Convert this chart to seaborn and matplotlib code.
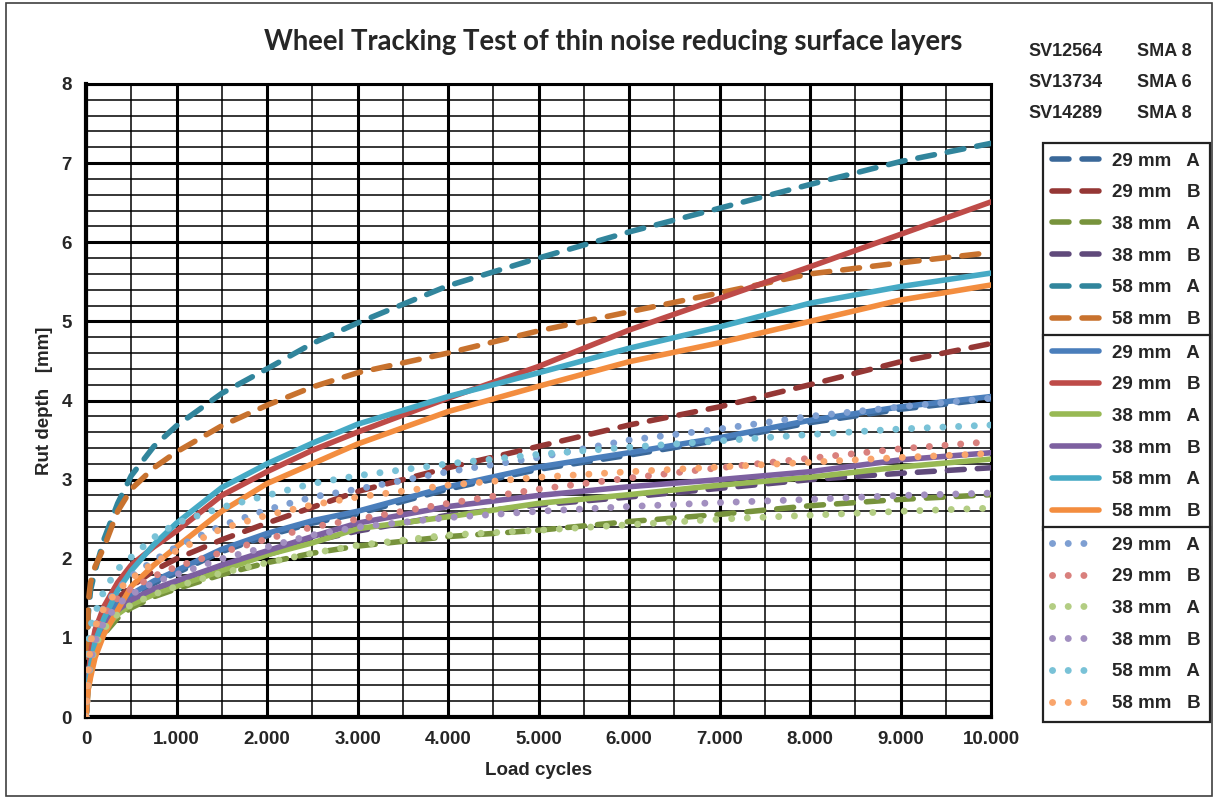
import numpy as np
import pandas as pd
import matplotlib
matplotlib.use("Agg")
import matplotlib.pyplot as plt
import seaborn as sns
from matplotlib.patches import Rectangle
from matplotlib.ticker import MultipleLocator, FuncFormatter

# ---------------- data ----------------
load_cycles = [0, 25, 50, 100, 200, 350, 500, 750, 1000, 1500, 2000, 2500,
               3000, 4000, 5000, 6000, 7000, 8000, 9000, 10000]

# dashed series
dash_29A = [0, 0.48, 0.72, 0.97, 1.22, 1.42, 1.52, 1.69, 1.82, 2.09, 2.29, 2.45,
            2.57, 2.88, 3.13, 3.31, 3.50, 3.72, 3.89, 4.02]
dash_29B = [0, 0.45, 0.70, 0.95, 1.25, 1.50, 1.65, 1.85, 2.00, 2.24, 2.45, 2.65,
            2.85, 3.15, 3.42, 3.69, 3.92, 4.20, 4.49, 4.72]
dash_38A = [0, 0.35, 0.55, 0.80, 1.05, 1.25, 1.38, 1.52, 1.62, 1.80, 1.95, 2.07,
            2.16, 2.28, 2.36, 2.47, 2.56, 2.67, 2.75, 2.81]
dash_38B = [0, 0.40, 0.60, 0.85, 1.10, 1.32, 1.45, 1.60, 1.70, 1.90, 2.05, 2.22,
            2.35, 2.55, 2.68, 2.78, 2.89, 3.00, 3.08, 3.15]
dash_58A = [0, 1.30, 1.60, 1.85, 2.25, 2.70, 3.05, 3.42, 3.68, 4.09, 4.40, 4.72,
            4.98, 5.45, 5.80, 6.13, 6.43, 6.73, 7.02, 7.25]
dash_58B = [0, 1.45, 1.70, 1.90, 2.15, 2.60, 2.88, 3.15, 3.35, 3.68, 3.94, 4.17,
            4.35, 4.60, 4.88, 5.12, 5.36, 5.60, 5.74, 5.87]

# solid series
solid_29A = [0, 0.50, 0.75, 1.00, 1.25, 1.45, 1.55, 1.72, 1.85, 2.12, 2.32, 2.48,
             2.60, 2.91, 3.16, 3.34, 3.53, 3.75, 3.92, 4.05]
solid_29B = [0, 0.50, 0.80, 1.10, 1.40, 1.70, 1.92, 2.15, 2.35, 2.80, 3.10, 3.37,
             3.60, 4.03, 4.43, 4.89, 5.29, 5.69, 6.10, 6.51]
solid_38A = [0, 0.40, 0.60, 0.85, 1.10, 1.30, 1.42, 1.55, 1.65, 1.85, 2.05, 2.20,
             2.38, 2.53, 2.70, 2.81, 2.93, 3.03, 3.16, 3.26]
solid_38B = [0, 0.45, 0.65, 0.90, 1.15, 1.35, 1.48, 1.62, 1.72, 1.92, 2.10, 2.28,
             2.45, 2.66, 2.80, 2.91, 3.00, 3.10, 3.25, 3.34]
solid_58A = [0, 0.40, 0.65, 0.95, 1.25, 1.60, 1.85, 2.18, 2.45, 2.90, 3.20, 3.46,
             3.70, 4.05, 4.35, 4.66, 4.93, 5.23, 5.44, 5.61]
solid_58B = [0, 0.35, 0.50, 0.75, 1.05, 1.35, 1.65, 1.92, 2.15, 2.60, 2.95, 3.20,
             3.45, 3.86, 4.18, 4.49, 4.73, 5.00, 5.27, 5.46]

# dotted series
dot_29A = [0, 0.60, 0.85, 1.15, 1.40, 1.62, 1.78, 1.98, 2.15, 2.42, 2.62, 2.78,
           2.88, 3.10, 3.28, 3.50, 3.64, 3.80, 3.92, 4.03]
dot_29B = [0, 0.50, 0.75, 1.05, 1.30, 1.50, 1.62, 1.78, 1.90, 2.08, 2.25, 2.40,
           2.50, 2.70, 2.88, 3.02, 3.15, 3.27, 3.39, 3.48]
dot_38A = [0, 0.45, 0.65, 0.90, 1.12, 1.30, 1.42, 1.55, 1.65, 1.82, 1.95, 2.07,
           2.17, 2.30, 2.36, 2.43, 2.50, 2.55, 2.60, 2.64]
dot_38B = [0, 0.50, 0.70, 0.95, 1.20, 1.42, 1.55, 1.70, 1.80, 2.00, 2.15, 2.30,
           2.40, 2.52, 2.60, 2.66, 2.71, 2.75, 2.80, 2.83]
dot_58A = [0, 0.90, 1.15, 1.31, 1.60, 1.87, 2.02, 2.27, 2.45, 2.65, 2.80, 2.95,
           3.05, 3.20, 3.32, 3.41, 3.49, 3.57, 3.64, 3.69]
dot_58B = [0, 0.55, 0.95, 1.14, 1.38, 1.60, 1.75, 1.95, 2.10, 2.38, 2.55, 2.68,
           2.78, 2.93, 3.03, 3.10, 3.16, 3.22, 3.28, 3.33]

series_labels = ["29 mm   A", "29 mm   B", "38 mm   A", "38 mm   B", "58 mm   A", "58 mm   B"]
sample_ids = ["SV12564", "SV13734", "SV14289"]
sample_types = ["SMA 8", "SMA 6", "SMA 8"]

title = "Wheel Tracking Test of thin noise reducing surface layers"
x_label = "Load cycles"
y_label = "Rut depth   [mm]"

dashed_colors = ["#3A6899", "#953735", "#77933C", "#604A7B", "#31859C", "#C8722E"]
solid_colors = ["#4A7EBB", "#BE4B48", "#98B954", "#7D60A0", "#46AAC5", "#F38D3F"]
dotted_colors = ["#7E9FD2", "#D9807D", "#B3CD83", "#A28FC0", "#79C2D7", "#F9A56C"]

groups = [
    ("dashed", [dash_29A, dash_29B, dash_38A, dash_38B, dash_58A, dash_58B], dashed_colors),
    ("solid", [solid_29A, solid_29B, solid_38A, solid_38B, solid_58A, solid_58B], solid_colors),
    ("dotted", [dot_29A, dot_29B, dot_38A, dot_38B, dot_58A, dot_58B], dotted_colors),
]

rows = []
for style, sets, _ in groups:
    for lab, vals in zip(series_labels, sets):
        for xv, yv in zip(load_cycles, vals):
            rows.append({"x": xv, "y": yv, "series": lab, "style": style})
df = pd.DataFrame(rows)

# ---------------- figure ----------------
sns.set_style("white")
plt.rcParams['font.family'] = ['Liberation Sans', 'DejaVu Sans']
plt.rcParams['font.weight'] = 'bold'

W, H = 1215, 798
fig = plt.figure(figsize=(W / 100, H / 100), dpi=100)
ax = fig.add_axes([86 / W, 1 - 717 / H, (991 - 86) / W, (717 - 84) / H])

style_cfg = {
    "dashed": dict(lw=4.0, dashes=(3.05, 2.35), z=3),
    "solid": dict(lw=4.0, dashes=None, z=4),
    "dotted": dict(lw=5.0, dashes=(0.01, 2.25), z=5),
}

handles = {"dashed": [], "solid": [], "dotted": []}
for style, sets, colors in groups:
    cfg = style_cfg[style]
    for lab, col in zip(series_labels, colors):
        sub = df[(df["style"] == style) & (df["series"] == lab)]
        n_before = len(ax.lines)
        sns.lineplot(data=sub, x="x", y="y", color=col, lw=cfg["lw"], ax=ax,
                     legend=False, sort=False, zorder=cfg["z"])
        line = ax.lines[n_before]
        line.set_solid_capstyle("round")
        line.set_dash_capstyle("round")
        line.set_solid_joinstyle("round")
        if cfg["dashes"] is not None:
            line.set_dashes(cfg["dashes"])
        handles[style].append(line)

ax.set_xlim(0, 10000)
ax.set_ylim(0, 8)
ax.xaxis.set_major_locator(MultipleLocator(1000))
ax.xaxis.set_minor_locator(MultipleLocator(500))
ax.yaxis.set_major_locator(MultipleLocator(1))
ax.yaxis.set_minor_locator(MultipleLocator(0.2))
ax.xaxis.set_major_formatter(FuncFormatter(lambda v, p: f"{int(round(v)):,}".replace(",", ".")))
ax.yaxis.set_major_formatter(FuncFormatter(lambda v, p: f"{int(round(v))}"))

ax.grid(which="major", color="black", lw=2.2, zorder=1)
ax.grid(which="minor", color="black", lw=1.1, zorder=1)
ax.set_axisbelow(True)
ax.tick_params(which="minor", length=0)
ax.tick_params(which="major", direction="out", length=5, width=2.5, color="black",
               labelsize=13.5, pad=5)
for lab in ax.get_xticklabels() + ax.get_yticklabels():
    lab.set_fontweight("bold")
for side, sp in ax.spines.items():
    sp.set_color("black")
    sp.set_linewidth(3 if side in ("left", "bottom") else 2.2)

ax.set_xlabel(x_label, fontsize=13.5, fontweight="bold", labelpad=10)
ax.set_ylabel(y_label, fontsize=13.5, fontweight="bold", labelpad=6)

fig.text(613.5 / W, 1 - 42 / H, title, ha="center", va="center",
         fontsize=19.8, fontweight="bold", family=["Lato", "DejaVu Sans"])

for i, (sid, stype) in enumerate(zip(sample_ids, sample_types)):
    yy = 1 - (52 + i * 30.5) / H
    fig.text(1028 / W, yy, sid, ha="left", va="center", fontsize=13, fontweight="bold")
    fig.text(1137 / W, yy, stype, ha="left", va="center", fontsize=13, fontweight="bold")

tops = [143, 335, 527]
for style, top in zip(["dashed", "solid", "dotted"], tops):
    leg = fig.legend(handles[style], series_labels, loc="upper left",
                     bbox_to_anchor=(1043 / W, 1 - top / H), frameon=True,
                     fancybox=False, edgecolor="#222222", framealpha=1,
                     prop={"weight": "bold", "size": 13.5}, handlelength=2.5,
                     handletextpad=0.7, labelspacing=0.78, borderpad=0.5,
                     borderaxespad=0)
    leg.get_frame().set_linewidth(1.6)

fig.patches.append(Rectangle((6 / W, 2 / H), 1 - 9 / W, 1 - 5 / H, transform=fig.transFigure,
                             fill=False, edgecolor="#404040", lw=1.2))

fig.savefig("out.png", dpi=100)
